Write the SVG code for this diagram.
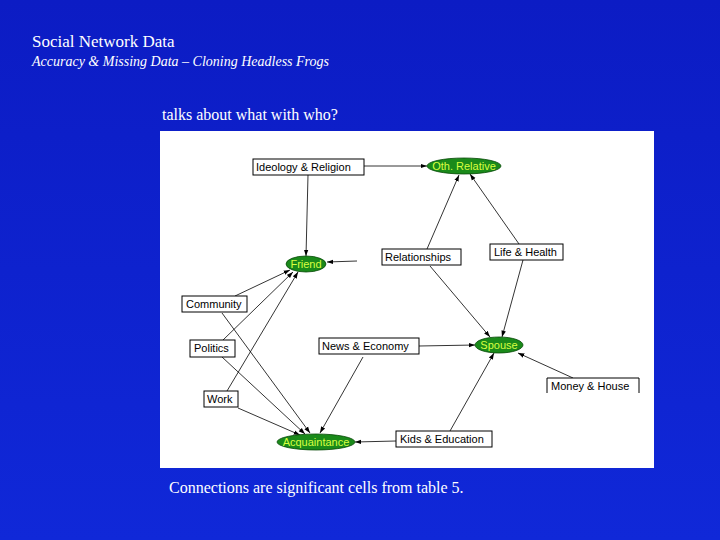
<svg xmlns="http://www.w3.org/2000/svg" width="720" height="540" viewBox="0 0 720 540">
<defs>
<linearGradient id="bg" x1="0" y1="0" x2="0" y2="1"><stop offset="0" stop-color="#0c1cc4"/><stop offset="1" stop-color="#1028d8"/></linearGradient>
<marker id="ar" viewBox="0 0 10 10" refX="10" refY="5" markerWidth="8" markerHeight="8" orient="auto"><path d="M0,1.5 L10,5 L0,8.5 z" fill="#000"/></marker>
<style>
.t{font-family:"Liberation Serif",serif;fill:#fff}
.b{fill:#fff;stroke:#000;stroke-width:1}
.bl{font-family:"Liberation Sans",sans-serif;font-size:11px;fill:#000}
.e{fill:#1a8a1a;stroke:#0a4a0a;stroke-width:0.8}
.el{font-family:"Liberation Sans",sans-serif;font-size:11px;fill:#d8ff40;text-anchor:middle}
#edges line{stroke:#000;stroke-width:0.8;marker-end:url(#ar)}
</style>
</defs>
<rect width="720" height="540" fill="url(#bg)"/>
<text class="t" x="32" y="47" font-size="17">Social Network Data</text>
<text class="t" x="32" y="66" font-size="14" font-style="italic">Accuracy &amp; Missing Data – Cloning Headless Frogs</text>
<text class="t" x="162" y="120" font-size="16">talks about what with who?</text>
<rect x="160" y="131" width="494" height="337" fill="#fff"/>
<g id="edges">
<line x1="364" y1="166" x2="427" y2="166"/>
<line x1="308" y1="175" x2="306" y2="256"/>
<line x1="357" y1="261" x2="327" y2="262"/>
<line x1="427" y1="249" x2="459" y2="175"/>
<line x1="430" y1="266" x2="490" y2="337"/>
<line x1="519" y1="244" x2="470" y2="174"/>
<line x1="523" y1="260" x2="502" y2="337"/>
<line x1="235" y1="296" x2="290" y2="270"/>
<line x1="222" y1="313" x2="310" y2="433"/>
<line x1="223" y1="340" x2="293" y2="272"/>
<line x1="222" y1="357" x2="305" y2="434"/>
<line x1="227" y1="391" x2="298" y2="272"/>
<line x1="238" y1="408" x2="300" y2="435"/>
<line x1="419" y1="346" x2="475" y2="345"/>
<line x1="363" y1="357" x2="320" y2="433"/>
<line x1="396" y1="441" x2="355" y2="442"/>
<line x1="450" y1="431" x2="494" y2="353"/>
<line x1="573" y1="378" x2="518" y2="353"/>
</g>
<g id="ideology"><rect class="b" x="253" y="159" width="111" height="16"/><text class="bl" x="256" y="171">Ideology &amp; Religion</text></g>
<g id="othrelative"><ellipse class="e" cx="464" cy="166" rx="37" ry="8"/><text class="el" x="464" y="170">Oth. Relative</text></g>
<g id="relationships"><rect class="b" x="382" y="249" width="79" height="16"/><text class="bl" x="385" y="261">Relationships</text></g>
<g id="lifehealth"><rect class="b" x="490" y="244" width="73" height="16"/><text class="bl" x="494" y="256">Life &amp; Health</text></g>
<g id="friend"><ellipse class="e" cx="306" cy="264" rx="20" ry="8"/><text class="el" x="306" y="268">Friend</text></g>
<g id="community"><rect class="b" x="182" y="296" width="65" height="16"/><text class="bl" x="186" y="308">Community</text></g>
<g id="politics"><rect class="b" x="190" y="340" width="45" height="17"/><text class="bl" x="194" y="352">Politics</text></g>
<g id="news"><rect class="b" x="319" y="338" width="100" height="16"/><text class="bl" x="322" y="350">News &amp; Economy</text></g>
<g id="spouse"><ellipse class="e" cx="499" cy="345" rx="24" ry="8"/><text class="el" x="499" y="349">Spouse</text></g>
<g id="money"><path d="M547,393 V378 H639 V393" fill="#fff" stroke="#000"/><text class="bl" x="551" y="390">Money &amp; House</text></g>
<g id="work"><rect class="b" x="204" y="391" width="34" height="16"/><text class="bl" x="207" y="403">Work</text></g>
<g id="acquaintance"><ellipse class="e" cx="316" cy="442" rx="39" ry="8"/><text class="el" x="316" y="446">Acquaintance</text></g>
<g id="kids"><rect class="b" x="396" y="431" width="96" height="16"/><text class="bl" x="400" y="443">Kids &amp; Education</text></g>
<text class="t" x="169" y="493" font-size="16">Connections are significant cells from table 5.</text>
</svg>
